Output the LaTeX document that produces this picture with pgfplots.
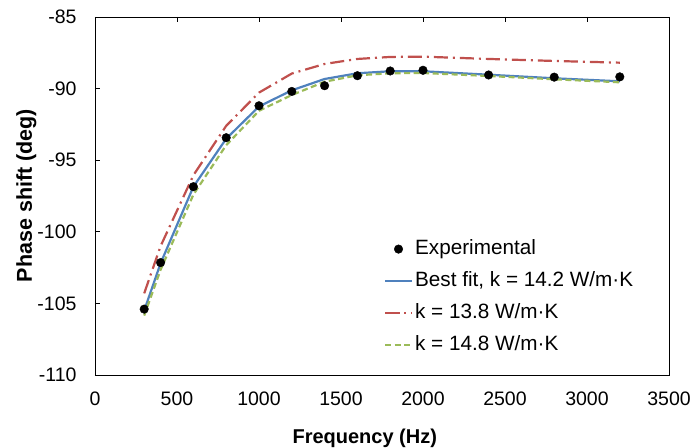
\documentclass[border=0pt]{standalone}
\usepackage{fontspec}
\setmainfont{Liberation Sans}
\usepackage{pgfplots}
\pgfplotsset{compat=1.18}
\definecolor{xblue}{HTML}{4F81BD}
\definecolor{xred}{HTML}{C0504D}
\definecolor{xgreen}{HTML}{9BBB59}
\begin{document}
\fontsize{19}{22}\selectfont
\begin{tikzpicture}
\begin{axis}[
  scale only axis, width=574pt, height=358pt,
  xmin=0, xmax=3500, ymin=-110, ymax=-85,
  xtick={0,500,1000,1500,2000,2500,3000,3500},
  xticklabels={0,500,1000,1500,2000,2500,3000,3500},
  ytick={-110,-105,-100,-95,-90,-85},
  yticklabels={-110,-105,-100,-95,-90,-85},
  xtick pos=right, xticklabel pos=left,
  ytick pos=left, yticklabel pos=left,
  tick align=inside, major tick length=5pt,
  tick style={black, line width=0.8pt},
  axis line style={black, line width=0.9pt},
  ticklabel style={font=\fontsize{19.5}{22}\selectfont},
  xticklabel style={yshift=-10pt},
  yticklabel style={xshift=-12pt},
  xlabel={\bfseries Frequency (Hz)},
  ylabel={\bfseries Phase shift (deg)},
  xlabel style={font=\fontsize{20}{22}\selectfont, at={(axis description cs:0.47,-0.19)}, anchor=base},
  ylabel style={font=\fontsize{21.5}{24}\selectfont, at={(axis description cs:-0.110,0.501)}, anchor=base},
  legend style={at={(axis description cs:0.503,0.383)}, anchor=north west,
    draw=none, fill=none, inner sep=0pt, row sep=10pt,
    nodes={text height=14pt, text depth=4pt, inner sep=2pt},
    font=\fontsize{20.7}{23}\selectfont},
  legend cell align=left,
  legend image code/.code={\draw[mark repeat=2,mark phase=2,#1] plot coordinates {(0pt,0pt) (13.5pt,0pt) (27pt,0pt)};},
]
\addplot[only marks, mark=*, mark size=4.3pt, black] coordinates {
(300,-105.4) (400,-102.15) (600,-96.85) (800,-93.43) (1000,-91.2) (1200,-90.2)
(1400,-89.8) (1600,-89.1) (1800,-88.77) (2000,-88.72) (2400,-89.05) (2800,-89.2) (3200,-89.18)};
\addlegendentry{Experimental}
\addplot[xblue, line width=2.2pt, no marks] coordinates {
(300,-105.5) (400,-102.2) (600,-96.85) (800,-93.5) (1000,-91.25) (1200,-90.12)
(1400,-89.33) (1600,-88.93) (1800,-88.79) (2000,-88.79) (2400,-89.03) (2800,-89.28) (3200,-89.49)};
\addlegendentry{Best fit, k = 14.2 W/m·K}
\addplot[xred, line width=2.2pt, no marks, dash pattern=on 14pt off 5pt on 2pt off 5pt] coordinates {
(300,-104.3) (400,-101.0) (600,-96.05) (800,-92.6) (1000,-90.28) (1200,-88.95)
(1400,-88.28) (1600,-87.93) (1800,-87.79) (2000,-87.77) (2400,-87.93) (2800,-88.07) (3200,-88.19)};
\addlegendentry{k = 13.8 W/m·K}
\addplot[xgreen, line width=2.2pt, no marks, dash pattern=on 6pt off 3.5pt] coordinates {
(300,-105.85) (400,-102.65) (600,-97.4) (800,-93.95) (1000,-91.55) (1200,-90.45)
(1400,-89.52) (1600,-89.07) (1800,-88.93) (2000,-88.91) (2400,-89.12) (2800,-89.35) (3200,-89.56)};
\addlegendentry{k = 14.8 W/m·K}
\coordinate (sw) at (rel axis cs:0,0);
\coordinate (ne) at (rel axis cs:1,1);
\end{axis}
\pgfresetboundingbox
\path[use as bounding box] ([shift={(-95pt,-73pt)}]sw) rectangle ([shift={(24pt,17pt)}]ne);
\end{tikzpicture}
\end{document}
